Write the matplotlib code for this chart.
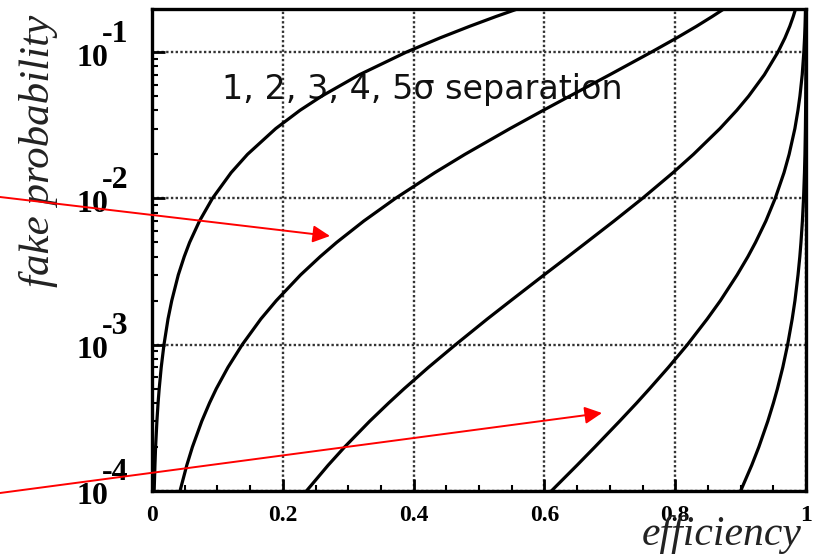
import matplotlib
matplotlib.use("Agg")
import matplotlib.pyplot as plt
from matplotlib.patches import FancyArrowPatch
from matplotlib.ticker import MultipleLocator, LogLocator, NullFormatter

# ---- data ----
fake_prob = [1e-4, 1.5e-4, 2e-4, 3e-4, 4e-4, 5e-4, 7e-4, 1e-3, 1.5e-3, 2e-3, 3e-3, 4e-3,
             5e-3, 7e-3, 1e-2, 1.5e-2, 2e-2, 3e-2, 4e-2, 5e-2, 7e-2, 0.1, 0.125, 0.15, 0.175,
             0.2, 0.25, 0.3]
eff_1sigma = [0.0033, 0.0045, 0.0055, 0.0075, 0.0093, 0.0110, 0.0141, 0.0183, 0.0245, 0.0302,
              0.0402, 0.0493, 0.0575, 0.0726, 0.0924, 0.1210, 0.1460, 0.1892, 0.2263, 0.2595,
              0.3170, 0.3890, 0.4404, 0.4856, 0.5259, 0.5628, 0.6278, 0.683]
eff_2sigma = [0.0428, 0.0532, 0.0618, 0.0761, 0.0880, 0.0983, 0.1161, 0.1379, 0.1665, 0.1900,
              0.2272, 0.2572, 0.2823, 0.3238, 0.3722, 0.4325, 0.4785, 0.5474, 0.5983, 0.6387,
              0.6999, 0.7636, 0.8023, 0.8325, 0.8566, 0.8766, 0.9076, 0.930]
eff_3sigma = [0.2361, 0.2693, 0.2946, 0.3329, 0.3620, 0.3855, 0.4227, 0.4641, 0.5128, 0.5486,
              0.5995, 0.6361, 0.6642, 0.7064, 0.7499, 0.7967, 0.8279, 0.8684, 0.8942, 0.9123,
              0.9363, 0.9571, 0.9678, 0.9752, 0.9805, 0.9845, 0.9900, 0.9934]
eff_4sigma = [0.6106, 0.6499, 0.6772, 0.7150, 0.7412, 0.7608, 0.7896, 0.8186, 0.8490, 0.8691,
              0.8947, 0.9112, 0.9228, 0.9386, 0.9529, 0.9664, 0.9742, 0.9830, 0.9877, 0.9907,
              0.9942, 0.9967, 0.99781, 0.9985, 0.99891, 0.9992, 0.99956, 0.99975]
eff_5sigma = [0.9000, 0.9170, 0.9279, 0.9416, 0.9502, 0.9563, 0.9645, 0.9719, 0.9789, 0.9831,
              0.9878, 0.99056, 0.9923, 0.9945, 0.99625, 0.99767, 0.99839, 0.99909, 0.99942, 0.9996,
              0.99979, 0.9999, 0.99994, 0.99996, 0.99998, 0.99998, 0.99999, 0.99999]
x_ticks = [0, 0.2, 0.4, 0.6, 0.8, 1]
x_tick_labels = ["0", "0.2", "0.4", "0.6", "0.8", "1"]
y_ticks = [1e-4, 1e-3, 1e-2, 1e-1]
y_exponents = ["-4", "-3", "-2", "-1"]
annotation_text = "1, 2, 3, 4, 5\u03c3 separation"

W, H = 813, 558
fig = plt.figure(figsize=(W / 100, H / 100), dpi=100)
fig.patch.set_facecolor("white")
ax = fig.add_axes([152 / W, 1 - 491 / H, (806 - 152) / W, (491 - 9) / H])

for eff in (eff_1sigma, eff_2sigma, eff_3sigma, eff_4sigma, eff_5sigma):
    ax.plot(eff, fake_prob, color="black", lw=2.3, solid_capstyle="round",
            solid_joinstyle="round", zorder=3)

ax.set_yscale("log")
ax.set_xlim(0, 1)
ax.set_ylim(1e-4, 0.197)

ax.set_xticks(x_ticks)
ax.set_xticklabels(x_tick_labels, fontfamily="Liberation Serif", fontweight="bold", fontsize=17)
ax.xaxis.set_minor_locator(MultipleLocator(0.05))
ax.set_yticks(y_ticks)
ax.set_yticklabels([""] * len(y_ticks))
ax.yaxis.set_minor_locator(LogLocator(base=10, subs=range(2, 10)))
ax.yaxis.set_minor_formatter(NullFormatter())

ax.tick_params(axis="both", which="both", direction="in", top=False, right=False, colors="black")
ax.tick_params(axis="x", which="major", length=9, width=2, pad=10)
ax.tick_params(axis="x", which="minor", length=4, width=1.5)
ax.tick_params(axis="y", which="major", length=9, width=2)
ax.tick_params(axis="y", which="minor", length=4, width=1.5)

ax.grid(True, which="major", linestyle=(0, (1, 1.0)), color="#333333", lw=1.7, zorder=1)
for s in ax.spines.values():
    s.set_linewidth(2.4)
    s.set_zorder(4)

# y tick labels "10" with large exponent
for val, ex in zip(y_ticks, y_exponents):
    ax.annotate("10", xy=(0, val), xycoords=("axes fraction", "data"),
                xytext=(-44, -6), textcoords="offset pixels", ha="right", va="center",
                fontfamily="Liberation Serif", fontweight="bold", fontsize=23, annotation_clip=False)
    ax.annotate(ex, xy=(0, val), xycoords=("axes fraction", "data"),
                xytext=(-50, 18), textcoords="offset pixels", ha="left", va="center",
                fontfamily="Liberation Serif", fontweight="bold", fontsize=23, annotation_clip=False)

ax.text(0.107, 0.832, annotation_text, transform=ax.transAxes, ha="left", va="center",
        fontfamily="DejaVu Sans", fontsize=24, color="#111111", zorder=2)

ax.text(-0.174, 0.705, "fake probability", transform=ax.transAxes, rotation=90,
        ha="center", va="center", fontfamily="Liberation Serif", fontstyle="italic",
        fontsize=31, color="#222222")
ax.text(0.994, -0.091, "efficiency", transform=ax.transAxes, ha="right", va="center",
        fontfamily="Liberation Serif", fontstyle="italic", fontsize=30, color="#222222")

# red arrows (figure pixel positions)
def fpix(x, y):
    return (x / W, 1 - y / H)

for start, end in [((0, 197), (330, 236)), ((0, 493), (602, 413))]:
    arr = FancyArrowPatch(fpix(*start), fpix(*end), transform=fig.transFigure,
                          arrowstyle="-|>", mutation_scale=26, color="#ff0000",
                          lw=1.4, zorder=10, shrinkA=0, shrinkB=0)
    fig.add_artist(arr)

fig.savefig("out.png", dpi=100, facecolor="white")
